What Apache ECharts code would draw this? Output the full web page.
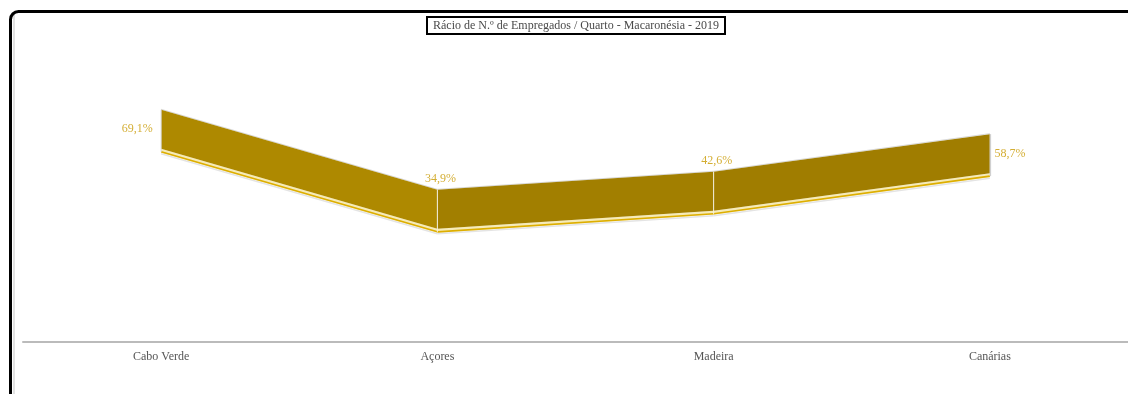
<!DOCTYPE html>
<html><head><meta charset="utf-8">
<script src="https://cdn.jsdelivr.net/npm/echarts@6/dist/echarts.min.js"></script>
<style>html,body{margin:0;padding:0;background:#fff}#c{width:1128px;height:394px}</style>
</head><body><div id="c"></div>
<script>
const categories = ['Cabo Verde', 'Açores', 'Madeira', 'Canárias'];
const values = [69.1, 34.9, 42.6, 58.7];
const segmentColors = ['#AE8900', '#A27F00', '#A07D00', '#9C7900'];
const titleText = 'Rácio de N.º de Empregados / Quarto - Macaronésia - 2019';

const segments = values.slice(0, -1).map((v, i) => [i, v, i + 1, values[i + 1]]);
const HALF = 19.5;
const labelPos = ['left', 'top', 'top', 'right'];
const labelDist = [8, 24, 24, 4];
const labelShift = [[0, 0], [3, 0], [3, 0], [0, 0]];

const chart = echarts.init(document.getElementById('c'));
chart.setOption({
  animation: false,
  title: {
    text: titleText, left: 427, top: 17,
    borderColor: '#000', borderWidth: 2, padding: [3, 6, 2, 6],
    textStyle: { fontFamily: 'Liberation Serif', fontSize: 12, fontWeight: 'normal', color: '#4a4a4a' }
  },
  graphic: [
    { type: 'rect', shape: { x: 13, y: 14, width: 2, height: 400 }, style: { fill: '#e2e2e2' }, z: 0 },
    { type: 'rect', shape: { x: 10.5, y: 11.5, width: 1300, height: 600, r: 8 }, style: { fill: 'none', stroke: '#000', lineWidth: 3 }, z: 10 }
  ],
  grid: { left: 23, width: 1108, top: 57, bottom: 52 },
  xAxis: {
    type: 'category', data: categories,
    axisLine: { onZero: false, lineStyle: { color: '#bbb', width: 2 } },
    axisTick: { show: false },
    axisLabel: { fontFamily: 'Liberation Serif', fontSize: 12, color: '#555', margin: 9 }
  },
  yAxis: { type: 'value', min: -21.8, max: 100, show: false, splitLine: { show: false } },
  series: [
    {
      type: 'custom',
      data: segments,
      renderItem: function (params, api) {
        const a = api.coord([api.value(0), api.value(1)]);
        const b = api.coord([api.value(2), api.value(3)]);
        const idx = params.dataIndex;
        const children = [];
        children.push({ type: 'polyline', shape: { points: [[a[0], a[1] + HALF + 5], [b[0], b[1] + HALF + 5]] }, style: { stroke: '#e4e4e4', lineWidth: 1.5, fill: 'none' } });
        children.push({ type: 'polygon', shape: { points: [[a[0], a[1] + HALF], [b[0], b[1] + HALF], [b[0], b[1] + HALF + 4], [a[0], a[1] + HALF + 4]] }, style: { fill: '#F6EBB8' } });
        children.push({ type: 'polyline', shape: { points: [[a[0], a[1] + HALF + 3], [b[0], b[1] + HALF + 3]] }, style: { stroke: '#DDAE00', lineWidth: 1.6, fill: 'none' } });
        children.push({ type: 'polyline', shape: { points: [[a[0], a[1] - HALF - 0.5], [b[0], b[1] - HALF - 0.5]] }, style: { stroke: '#d8d8d8', lineWidth: 1, fill: 'none' } });
        children.push({ type: 'polygon', shape: { points: [[a[0], a[1] - HALF], [b[0], b[1] - HALF], [b[0], b[1] + HALF], [a[0], a[1] + HALF]] }, style: { fill: segmentColors[idx] } });
        children.push({ type: 'line', shape: { x1: a[0], y1: a[1] - HALF, x2: a[0], y2: a[1] + HALF + 3 }, style: { stroke: idx === 0 ? '#d8d8d8' : '#f4f0e0', lineWidth: 1 } });
        if (idx === segments.length - 1) {
          children.push({ type: 'line', shape: { x1: b[0] + 0.5, y1: b[1] - HALF, x2: b[0] + 0.5, y2: b[1] + HALF + 3 }, style: { stroke: '#d0d0d0', lineWidth: 1.5 } });
        }
        return { type: 'group', children: children };
      },
      z: 2
    },
    {
      type: 'scatter',
      symbolSize: 1,
      itemStyle: { color: 'rgba(0,0,0,0)' },
      data: values.map((v, i) => ({
        value: [i, v],
        label: { position: labelPos[i], distance: labelDist[i], offset: labelShift[i] }
      })),
      label: {
        show: true,
        formatter: p => p.value[1].toFixed(1).replace('.', ',') + '%',
        fontFamily: 'Liberation Serif', fontSize: 12, color: '#C99A00'
      },
      z: 5
    }
  ]
});
</script></body></html>
